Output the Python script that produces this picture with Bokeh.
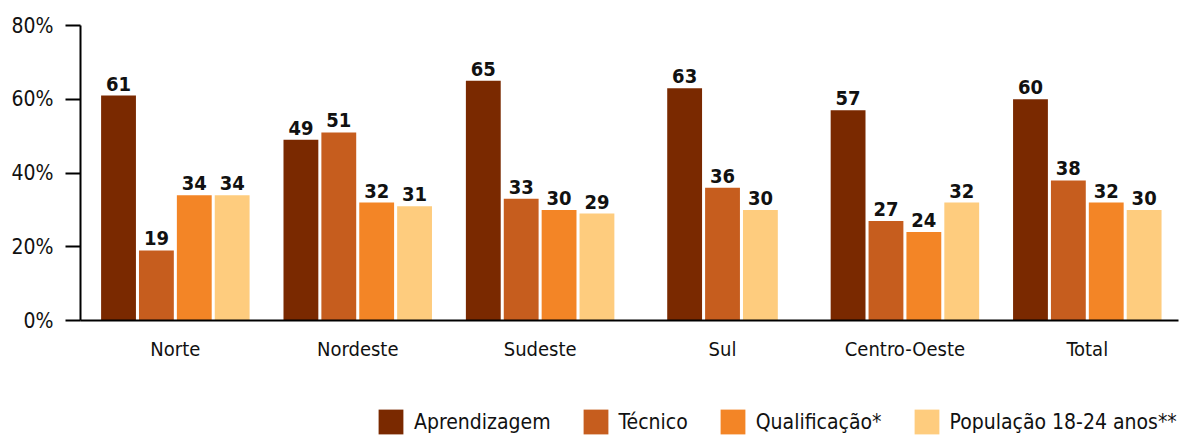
import numpy as np
from bokeh.plotting import figure
from bokeh.layouts import column
from bokeh.models import (ColumnDataSource, Range1d, FixedTicker, Legend, LegendItem,
                          PrintfTickFormatter)
from bokeh.embed import file_html
from bokeh.resources import INLINE
from bokeh.core.properties import value

# ---------------- data ----------------
regions = ["Norte", "Nordeste", "Sudeste", "Sul", "Centro-Oeste", "Total"]
aprendizagem = [61, 49, 65, 63, 57, 60]
tecnico = [19, 51, 33, 36, 27, 38]
qualificacao = [34, 32, 30, None, 24, 32]
populacao = [34, 31, 29, 30, 32, 30]
series_names = ["Aprendizagem", "Técnico", "Qualificação*", "População 18-24 anos**"]
colors = ["#7A2900", "#C65D1E", "#F38526", "#FECC7E"]
y_ticks = [0, 20, 40, 60, 80]

FONT = "DejaVu Sans Condensed, Liberation Sans, sans-serif"
all_series = [aprendizagem, tecnico, qualificacao, populacao]

slot = 0.2077
bw = 0.191

p = figure(width=1189, height=400, x_range=Range1d(-0.02, len(regions)), y_range=Range1d(0, 80),
           output_backend="svg", toolbar_location=None,
           min_border_left=80, min_border_right=11, min_border_top=25, min_border_bottom=80)
p.outline_line_color = None
p.xgrid.grid_line_color = None
p.ygrid.grid_line_color = None

for s, vals in enumerate(all_series):
    xs, tops, labels = [], [], []
    for g in range(len(regions)):
        present = [k for k in range(len(all_series)) if all_series[k][g] is not None]
        if vals[g] is None:
            continue
        n = len(present)
        k = present.index(s)
        xs.append(g + 0.5 + (k - (n - 1) / 2) * slot)
        tops.append(vals[g])
        labels.append(str(vals[g]))
    src = ColumnDataSource(dict(x=xs, top=tops, label=labels))
    p.vbar(x="x", top="top", width=bw, bottom=0, source=src,
           fill_color=colors[s], line_color=None)
    p.text(x="x", y="top", text="label", source=src, text_align="center",
           text_baseline="bottom", y_offset=-5, text_font=value(FONT),
           text_font_style="bold", text_font_size="20px", text_color="#111111")

# axes
xa = p.xaxis[0]
xa.ticker = FixedTicker(ticks=[g + 0.5 for g in range(len(regions))])
xa.major_label_overrides = {g + 0.5: name for g, name in enumerate(regions)}
xa.major_tick_line_color = None
xa.major_tick_out = 0
xa.minor_tick_line_color = None
xa.axis_line_color = "black"
xa.axis_line_width = 2
xa.major_label_standoff = 16
xa.major_label_text_font = FONT
xa.major_label_text_font_size = "20px"
xa.major_label_text_color = "#111111"

ya = p.yaxis[0]
ya.ticker = FixedTicker(ticks=y_ticks)
ya.formatter = PrintfTickFormatter(format="%d%%")
ya.major_tick_out = 15
ya.major_tick_in = 0
ya.major_tick_line_width = 2
ya.minor_tick_line_color = None
ya.axis_line_width = 2
ya.axis_line_color = "black"
ya.major_label_standoff = 12
ya.major_label_text_font = FONT
ya.major_label_text_font_size = "21px"
ya.major_label_text_color = "#111111"

# legend strip below the chart
lf = figure(width=1189, height=37, x_range=Range1d(0, 1), y_range=Range1d(0, 1),
            output_backend="svg", toolbar_location=None, x_axis_type=None, y_axis_type=None,
            min_border_left=0, min_border_right=0, min_border_top=0, min_border_bottom=0)
lf.outline_line_color = None
lf.xgrid.grid_line_color = None
lf.ygrid.grid_line_color = None
leg_renderers = [lf.vbar(x=[0.5], top=[0], bottom=[0], width=0, fill_color=c, line_color=None)
                 for c in colors]
legend = Legend(items=[LegendItem(label=n, renderers=[r]) for n, r in zip(series_names, leg_renderers)],
                location=(295, 0), orientation="horizontal",
                glyph_width=31, glyph_height=31, label_standoff=8, spacing=29,
                padding=0, margin=0, border_line_color=None, background_fill_alpha=0,
                label_text_font=FONT, label_text_font_size="21px", label_text_color="#111111")
lf.add_layout(legend, "center")

layout = column(p, lf, spacing=0)
open("out.html", "w").write(file_html(layout, INLINE))
